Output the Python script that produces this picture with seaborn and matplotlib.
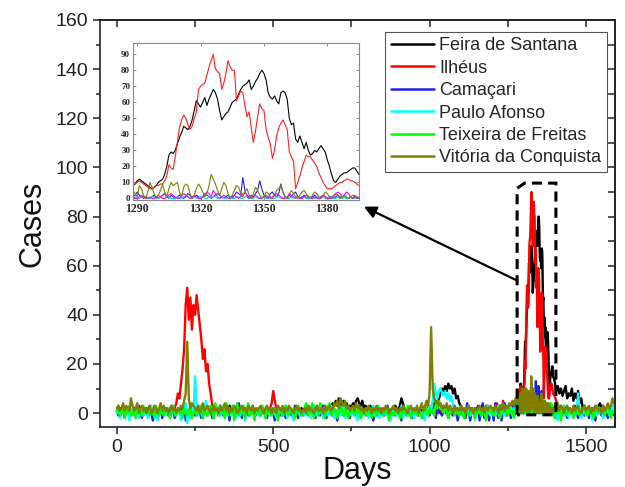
import numpy as np
import pandas as pd
import matplotlib
matplotlib.use("Agg")
import matplotlib.pyplot as plt
from matplotlib.lines import Line2D
from matplotlib.patches import Polygon
from matplotlib.ticker import MultipleLocator
import seaborn as sns

CITIES = ["Feira de Santana", "Ilhéus", "Camaçari", "Paulo Afonso",
          "Teixeira de Freitas", "Vitória da Conquista"]
COLORS = ["#000000", "#ff0000", "#1f1fe6", "#00ffff", "#00ff00", "#808000"]
INSET_COLORS = ["#000000", "#ff2020", "#2020ff", "#00dddd", "#ff00ff", "#808000"]

# Sampling: every 5 days outside the outbreak window, daily inside it
EARLY_START, EARLY_END, EARLY_STEP = 0, 1285, 5
WINDOW_START, WINDOW_END = 1288, 1395
LATE_START, LATE_END, LATE_STEP = 1400, 1595, 5

# ---------------- Feira de Santana ----------------
FEIRA_EARLY = [
    1, 0, 2, 1, 0, 1, 0, 2, 1, 0,
    1, 0, 1, 2, 0, 1, 0, 1, 0, 1,
    0, 1, 2, 0, 1, 0, 1, 0, 2, 1,
    0, 1, 0, 1, 2, 0, 1, 0, 1, 0,
    1, 0, 2, 1, 0, 1, 0, 1, 0, 2,
    1, 0, 1, 0, 2, 1, 0, 1, 0, 1,
    2, 1, 0, 1, 0, 1, 2, 0, 1, 0,
    1, 2, 3, 1, 0, 1, 2, 1, 0, 1,
    0, 1, 2, 1, 0, 2, 1, 0, 1, 0,
    1, 0, 1, 2, 1, 0, 1, 0, 1, 0,
    1, 2, 0, 1, 0, 1, 0, 2, 1, 0,
    1, 0, 1, 0, 2, 1, 0, 1, 2, 1,
    0, 1, 2, 1, 0, 1, 3, 1, 2, 1,
    2, 1, 3, 2, 1, 2, 3, 2, 4, 3,
    5, 3, 6, 4, 2, 5, 3, 4, 2, 3,
    2, 4, 3, 5, 6, 4, 3, 5, 2, 3,
    2, 1, 3, 2, 1, 2, 0, 1, 2, 1,
    0, 1, 2, 1, 0, 1, 2, 1, 3, 2,
    1, 3, 6, 4, 1, 0, 1, 2, 1, 0,
    1, 0, 2, 1, 0, 1, 2, 1, 0, 2,
    1, 3, 2, 4, 5, 3, 6, 8, 10, 9,
    11, 9, 12, 10, 11, 8, 10, 6, 7, 4,
    3, 2, 1, 2, 0, 1, 2, 1, 0, 1,
    2, 1, 0, 1, 2, 1, 0, 2, 1, 0,
    1, 0, 2, 1, 3, 1, 0, 2, 1, 2,
    1, 2, 1, 3, 2, 4, 5, 7,
]
FEIRA_WINDOW = [
    8, 9, 11, 12, 11, 10, 9, 8, 7, 6,
    7, 8, 10, 11, 12, 15, 20, 27, 29, 28,
    30, 34, 38, 41, 45, 44, 43, 45, 49, 55,
    61, 59, 57, 60, 63, 58, 62, 65, 68, 66,
    62, 55, 49, 51, 53, 54, 57, 60, 61, 62,
    65, 68, 70, 71, 72, 74, 68, 70, 73, 75,
    78, 80, 78, 74, 66, 63, 62, 64, 61, 59,
    66, 67, 66, 62, 50, 46, 47, 37, 35, 39,
    35, 31, 35, 30, 27, 28, 30, 29, 31, 33,
    31, 29, 24, 20, 15, 11, 10, 12, 14, 15,
    16, 16, 17, 18, 19, 19, 17, 15,
]
FEIRA_LATE = [
    13, 9, 11, 8, 10, 7, 9, 11, 6, 8,
    7, 10, 5, 8, 6, 9, 4, 6, 2, 3,
    1, 2, 0, 1, 2, 1, 0, 2, 3, 4,
    2, 3, 1, 0, 2, 1, 0, 2, 1, 3,
]

# ---------------- Ilhéus ----------------
ILHEUS_EARLY = [
    0, 1, 0, 0, 1, 0, 1, 0, 0, 1,
    0, 0, 1, 0, 0, 1, 0, 0, 1, 0,
    1, 0, 0, 1, 0, 0, 1, 0, 0, 1,
    0, 1, 0, 0, 1, 0, 1, 2, 4, 8,
    6, 12, 18, 26, 44, 51, 38, 47, 34, 44,
    40, 48, 42, 36, 30, 22, 26, 17, 20, 12,
    8, 3, 1, 0, 1, 0, 0, 1, 0, 0,
    1, 0, 0, 1, 0, 0, 1, 0, 1, 0,
    0, 1, 0, 0, 1, 0, 0, 1, 0, 0,
    1, 0, 0, 1, 0, 1, 0, 0, 2, 4,
    9, 5, 2, 1, 0, 1, 0, 0, 1, 0,
    0, 1, 0, 0, 1, 0, 0, 1, 0, 0,
    1, 0, 0, 1, 0, 0, 1, 0, 0, 1,
    0, 0, 1, 0, 1, 0, 0, 1, 0, 0,
    1, 0, 0, 1, 0, 0, 1, 0, 1, 0,
    0, 1, 0, 0, 1, 0, 0, 1, 0, 0,
    1, 0, 0, 1, 0, 1, 0, 0, 1, 0,
    0, 1, 0, 0, 1, 0, 0, 1, 0, 1,
    0, 0, 1, 0, 0, 1, 0, 0, 1, 0,
    1, 0, 0, 1, 0, 0, 1, 0, 0, 1,
    0, 1, 0, 0, 1, 0, 0, 1, 0, 0,
    1, 0, 0, 1, 0, 0, 1, 0, 1, 0,
    0, 1, 0, 0, 1, 0, 0, 2, 0, 1,
    0, 1, 0, 2, 0, 1, 0, 3, 1, 0,
    1, 0, 2, 4, 1, 0, 1, 5, 2, 1,
    2, 1, 3, 2, 4, 3, 6, 8,
]
ILHEUS_WINDOW = [
    9, 9, 10, 11, 10, 9, 8, 7, 6, 6,
    7, 8, 8, 9, 9, 11, 14, 21, 19, 18,
    26, 35, 44, 49, 52, 50, 46, 43, 45, 50,
    54, 68, 70, 71, 72, 77, 82, 86, 90, 81,
    79, 78, 68, 72, 78, 86, 82, 80, 80, 61,
    64, 67, 66, 58, 51, 54, 44, 35, 42, 51,
    59, 56, 55, 43, 38, 34, 25, 30, 39, 44,
    47, 49, 46, 43, 29, 26, 23, 6, 10, 14,
    19, 23, 27, 26, 26, 24, 22, 20, 16, 13,
    10, 8, 6, 6, 6, 7, 8, 9, 10, 10,
    11, 12, 12, 11, 11, 10, 9, 8,
]
ILHEUS_LATE = [
    7, 5, 3, 2, 1, 0, 1, 0, 1, 0,
    0, 1, 0, 0, 1, 0, 0, 1, 0, 0,
    1, 0, 0, 1, 0, 2, 0, 1, 0, 0,
    1, 0, 0, 1, 0, 0, 1, 0, 0, 1,
]

# ---------------- Camaçari ----------------
CAMACARI_EARLY = [
    1, -1, 2, 0, 3, -2, 1, 0, 2, -1,
    0, 2, -1, 1, 3, 0, -2, 1, 0, 2,
    -1, 3, 0, -3, 1, 2, -1, 0, 3, -2,
    1, 0, 2, -1, 0, 3, 1, -2, 0, 1,
    2, -1, 0, 3, -3, 1, 0, -2, 2, 0,
    -1, 1, 3, 0, -2, 1, 0, 2, -1, 0,
    1, -2, 0, 2, 1, -1, 3, 0, -1, 1,
    0, 2, -3, 1, 0, 2, -1, 1, 4, 0,
    -2, 1, 0, 2, -1, 0, 1, 3, -2, 0,
    1, 0, -1, 2, 0, 1, -2, 0, 1, 2,
    0, -3, 1, 0, 2, -1, 1, 0, -2, 1,
    2, 0, -1, 1, 3, 0, -2, 1, 0, -1,
    1, 2, 0, -1, 1, 0, 2, -2, 1, 0,
    -1, 1, 3, 0, -2, 1, 0, 2, -1, 1,
    0, -3, 2, 1, 0, -1, 3, 0, 1, -2,
    1, 0, 2, -1, 0, 1, -2, 2, 0, 1,
    -1, 2, 0, 1, -3, 0, 2, -1, 1, 0,
    2, -1, 0, 3, 1, -2, 0, 1, -1, 2,
    0, 1, -3, 2, 0, 1, -1, 0, 2, -2,
    1, 0, 2, -1, 1, 0, -2, 3, 0, 1,
    -1, 2, 0, 1, -2, 3, 1, 0, -1, 2,
    0, 1, -2, 2, 0, -1, 3, 1, -3, 0,
    2, 0, 1, -2, 4, 0, -3, 1, 2, -1,
    0, 3, -3, 1, 4, -2, 0, 3, -3, 1,
    2, -3, 4, 0, -2, 3, -3, 1, 4, -1,
    0, 3, -2, 2, 4, 0, 6, 3,
]
CAMACARI_WINDOW = [
    1, 2, 4, 2, 1, 0, 1, 0, 0, 1,
    2, 1, 0, 1, 2, 3, 1, 0, 2, 1,
    0, 1, 2, 1, 0, 1, 3, 2, 0, 1,
    2, 1, 0, 1, 3, 2, 1, 0, 1, 2,
    3, 2, 1, 0, 1, 2, 1, 0, 2, 4,
    3, 2, 13, 5, 1, 0, 2, 1, 3, 5,
    11, 6, 2, 1, 0, 3, 4, 2, 1, 3,
    9, 4, 1, 0, 2, 1, 3, 4, 1, 0,
    1, 2, 0, 1, 0, 1, 2, 1, 0, 1,
    2, 1, 0, 1, 0, 0, 1, 2, 1, 0,
    1, 0, 0, 1, 0, 1, 0, 0,
]
CAMACARI_LATE = [
    1, -2, 2, 0, 3, -1, 1, 0, -2, 2,
    0, 1, -1, 3, 0, -2, 1, 0, 2, -1,
    1, 0, -2, 2, 0, 1, -3, 1, 0, 2,
    -1, 0, 2, 1, -2, 0, 3, 1, -1, 0,
]

# ---------------- Paulo Afonso ----------------
PAULO_EARLY = [
    0, 2, -2, 1, 3, -1, 0, 2, -3, 1,
    2, -1, 0, 3, -2, 1, 0, -1, 2, 0,
    -2, 1, 3, 0, -1, 2, -3, 1, 0, 2,
    1, -1, 0, 2, -2, 0, 3, 1, -1, 0,
    2, -3, 1, 0, 4, -4, 1, -2, 3, 0,
    15, 2, -1, 3, 0, -2, 1, 5, -1, 0,
    1, 0, -2, 2, 0, 1, -1, 3, 0, -2,
    0, 2, 1, -1, 0, 3, -2, 0, 1, -1,
    2, 0, -3, 1, 2, -1, 0, 2, -2, 1,
    0, -1, 2, 0, 1, -2, 3, 0, -1, 2,
    1, 0, -2, 2, 0, 1, -1, 0, 3, -2,
    0, 2, 1, -3, 0, 1, 2, -1, 0, 1,
    -1, 0, 2, 1, -2, 0, 3, 0, -1, 2,
    0, 1, -2, 0, 2, -1, 1, 3, 0, -2,
    1, 0, 2, -1, 0, 3, -2, 1, 0, 2,
    -1, 2, 0, 1, -3, 0, 2, -1, 1, 0,
    2, -2, 0, 1, 3, -1, 0, 2, -2, 1,
    0, 1, -1, 2, 0, -3, 1, 0, 2, -1,
    1, 0, 3, -2, 0, 1, -1, 2, 0, 1,
    -2, 1, 0, 2, -1, 0, 1, -3, 2, 0,
    3, 1, 5, 12, 8, 6, 9, 10, 8, 7,
    9, 6, 8, 5, 7, 3, 2, 0, 1, -1,
    0, 2, -2, 1, 0, 3, -1, 0, 2, -3,
    1, 0, 2, -1, 0, 1, -2, 3, 0, -1,
    2, 0, -1, 1, 3, -2, 0, 1, -1, 2,
    0, 1, 3, -1, 2, 1, 4, 2,
]
PAULO_WINDOW = [
    0, 1, 0, 0, 1, 1, 0, 0, 0, 1,
    1, 0, 0, 1, 0, 0, 1, 1, 0, 0,
    0, 1, 0, 0, 1, 2, 1, 0, 0, 1,
    0, 0, 1, 1, 0, 0, 1, 0, 1, 1,
    0, 0, 1, 0, 0, 1, 1, 0, 0, 1,
    1, 0, 0, 1, 2, 1, 0, 0, 1, 0,
    0, 1, 1, 0, 0, 1, 0, 0, 1, 1,
    0, 0, 1, 0, 0, 1, 0, 1, 1, 0,
    0, 1, 0, 0, 1, 0, 0, 1, 0, 0,
    1, 0, 0, 1, 1, 0, 0, 1, 0, 0,
    1, 0, 0, 1, 0, 0, 1, 0,
]
PAULO_LATE = [
    2, 0, -3, 1, 0, 2, -1, 0, 3, -2,
    1, 0, 2, -1, 0, 8, 1, -2, 0, 2,
    -1, 1, 0, 2, -3, 0, 1, -1, 2, 0,
    1, -2, 0, 2, 1, -1, 0, 3, 1, 0,
]

# ---------------- Teixeira de Freitas ----------------
TEIXEIRA_EARLY = [
    1, 3, -1, 0, 2, -2, 1, 0, 3, -1,
    0, 1, -2, 2, 0, 1, -1, 3, 0, 1,
    2, -1, 0, 1, -2, 3, 0, -1, 2, 0,
    -1, 2, 1, 0, -2, 1, 3, -1, 0, 2,
    0, 1, -2, 2, 0, -1, 1, 3, -2, 0,
    1, -1, 2, 0, 3, -2, 1, 0, -1, 2,
    3, 0, -2, 4, 1, -1, 3, 0, 2, -2,
    4, -1, 2, 0, 3, -3, 1, 4, -1, 2,
    0, 3, -2, 1, 4, -1, 0, 2, -3, 1,
    2, 0, -1, 3, 1, -2, 2, 0, 1, -1,
    0, 2, 1, -3, 0, 2, -1, 1, 3, 0,
    -1, 1, 0, 2, -2, 0, 3, 1, -1, 0,
    2, 4, -1, 3, 0, 4, -2, 2, 3, -1,
    4, 0, 2, -2, 3, 1, 4, -1, 0, 2,
    1, -2, 0, 3, 1, -1, 2, 0, -2, 1,
    0, 2, -1, 1, 0, 3, -2, 0, 1, -1,
    2, 0, 1, -2, 0, 2, -1, 3, 0, 1,
    -1, 1, 0, 2, -3, 1, 0, -1, 2, 0,
    1, -2, 2, 0, 1, -1, 3, 0, -2, 1,
    0, 2, -1, 1, 0, -2, 1, 3, 0, -1,
    2, 0, 1, -1, 4, 2, 5, 3, 1, 0,
    3, 1, -2, 2, 0, 1, -1, 0, 2, -1,
    0, 1, -2, 2, 0, -1, 1, 0, 2, -2,
    1, 0, 2, -1, 0, 1, -3, 0, 2, 1,
    0, -1, 1, 2, 0, -2, 1, 0, 3, 1,
    -1, 2, 0, 1, -2, 1, 3, 2,
]
TEIXEIRA_WINDOW = [
    1, 0, 0, 1, 2, 1, 0, 0, 1, 0,
    0, 1, 2, 1, 0, 0, 1, 2, 3, 2,
    1, 0, 0, 2, 3, 2, 1, 0, 1, 2,
    1, 0, 0, 1, 2, 4, 3, 1, 5, 3,
    1, 0, 1, 2, 1, 0, 0, 1, 2, 1,
    0, 1, 3, 4, 2, 1, 0, 1, 2, 1,
    0, 0, 1, 2, 1, 0, 1, 2, 3, 2,
    1, 0, 0, 1, 3, 2, 1, 0, 1, 0,
    0, 1, 2, 1, 0, 0, 1, 0, 0, 1,
    2, 1, 0, 0, 1, 2, 3, 4, 3, 1,
    2, 4, 3, 1, 0, 2, 1, 0,
]
TEIXEIRA_LATE = [
    -2, 1, 0, 2, -3, 1, 3, 0, -1, 2,
    0, 1, -2, 2, 0, 1, -1, 0, 2, 1,
    0, -1, 2, 1, 0, -2, 1, 3, 0, 1,
    2, 0, -1, 1, 3, 0, -2, 1, 0, 2,
]

# ---------------- Vitória da Conquista ----------------
VITORIA_EARLY = [
    2, 3, 1, 2, 4, 1, 3, 2, 1, 6,
    3, 1, 2, 4, 0, 2, 3, 1, 2, 0,
    2, 3, 0, 1, 3, 2, 0, 2, 4, 1,
    3, 1, 2, 0, 2, 3, 1, 2, 0, 2,
    1, 3, 2, 5, 8, 29, 6, 2, 4, 3,
    2, 1, 3, 0, 2, 4, 1, 2, 3, 1,
    0, 2, 3, 1, 2, 0, 3, 1, 2, 4,
    1, 3, 0, 2, 1, 3, 2, 0, 1, 2,
    3, 1, 2, 0, 3, 2, 1, 3, 0, 2,
    1, 2, 3, 1, 0, 2, 3, 1, 2, 0,
    2, 1, 0, 3, 2, 1, 3, 0, 2, 1,
    3, 2, 1, 0, 2, 3, 1, 2, 0, 1,
    2, 0, 3, 1, 2, 1, 0, 2, 3, 1,
    1, 2, 0, 3, 1, 2, 3, 1, 2, 4,
    3, 5, 2, 6, 4, 3, 5, 2, 3, 1,
    2, 3, 1, 4, 2, 3, 1, 2, 0, 2,
    1, 3, 2, 0, 2, 1, 3, 1, 2, 0,
    2, 1, 3, 2, 0, 1, 2, 3, 1, 2,
    0, 2, 1, 3, 2, 1, 0, 2, 3, 1,
    2, 1, 3, 0, 2, 4, 1, 2, 5, 3,
    8, 35, 10, 6, 4, 5, 3, 4, 2, 3,
    2, 4, 1, 3, 2, 0, 3, 1, 2, 1,
    3, 1, 2, 0, 2, 3, 1, 2, 0, 2,
    1, 2, 3, 1, 2, 0, 3, 1, 2, 3,
    2, 1, 3, 2, 0, 3, 2, 4, 1, 3,
    2, 4, 3, 5, 3, 6, 4, 7,
]
VITORIA_WINDOW = [
    5, 3, 1, 8, 6, 2, 0, 4, 10, 7,
    3, 0, 2, 5, 9, 4, 1, 6, 10, 8,
    9, 10, 4, 1, 7, 9, 8, 3, 0, 2,
    6, 9, 7, 4, 1, 3, 8, 15, 12, 9,
    5, 2, 6, 10, 8, 3, 0, 2, 5, 8,
    7, 3, 1, 4, 6, 2, 0, 3, 7, 5,
    2, 0, 1, 4, 3, 1, 0, 2, 5, 6,
    8, 4, 1, 0, 2, 5, 3, 1, 0, 2,
    4, 5, 3, 1, 0, 2, 4, 3, 1, 0,
    2, 4, 3, 1, 0, 1, 3, 2, 0, 1,
    2, 1, 0, 1, 2, 1, 0, 1,
]
VITORIA_LATE = [
    3, 2, 4, 1, 3, 2, 0, 2, 3, 1,
    2, 0, 3, 1, 2, 3, 1, 0, 2, 3,
    1, 2, 3, 0, 2, 1, 3, 2, 1, 2,
    0, 3, 1, 2, 4, 2, 3, 6, 4, 2,
]

SERIES = {
    "Feira de Santana": (FEIRA_EARLY, FEIRA_WINDOW, FEIRA_LATE),
    "Ilhéus": (ILHEUS_EARLY, ILHEUS_WINDOW, ILHEUS_LATE),
    "Camaçari": (CAMACARI_EARLY, CAMACARI_WINDOW, CAMACARI_LATE),
    "Paulo Afonso": (PAULO_EARLY, PAULO_WINDOW, PAULO_LATE),
    "Teixeira de Freitas": (TEIXEIRA_EARLY, TEIXEIRA_WINDOW, TEIXEIRA_LATE),
    "Vitória da Conquista": (VITORIA_EARLY, VITORIA_WINDOW, VITORIA_LATE),
}

early_days = np.arange(EARLY_START, EARLY_END + 1, EARLY_STEP)
window_days = np.arange(WINDOW_START, WINDOW_END + 1)
late_days = np.arange(LATE_START, LATE_END + 1, LATE_STEP)
days = np.concatenate([early_days, window_days, late_days])

frames = []
for city in CITIES:
    early, window, late = SERIES[city]
    assert len(early) == len(early_days), (city, "early", len(early))
    assert len(window) == len(window_days), (city, "window", len(window))
    assert len(late) == len(late_days), (city, "late", len(late))
    frames.append(pd.DataFrame({"Day": days, "Cases": early + window + late, "City": city}))
df = pd.concat(frames, ignore_index=True)

sns.set_style("ticks")
plt.rcParams["font.family"] = ["Liberation Sans", "DejaVu Sans"]

fig = plt.figure(figsize=(6.25, 4.87), dpi=100)
ax = fig.add_axes([0.16, 0.123, 0.824, 0.836])

sns.lineplot(data=df, x="Day", y="Cases", hue="City", hue_order=CITIES,
             palette=COLORS, estimator=None, linewidth=1.7, legend=False, ax=ax)

ax.set_xlim(-54, 1593)
ax.set_ylim(-5.7, 160)
ax.xaxis.set_major_locator(MultipleLocator(500))
ax.xaxis.set_minor_locator(MultipleLocator(250))
ax.yaxis.set_major_locator(MultipleLocator(20))
ax.yaxis.set_minor_locator(MultipleLocator(10))
ax.tick_params(which="major", direction="out", length=5, width=1.1,
               labelsize=14, color="#222222", labelcolor="#222222")
ax.tick_params(which="minor", direction="out", length=3, width=1.1, color="#222222")
for sp in ax.spines.values():
    sp.set_linewidth(1.2)
    sp.set_color("#222222")

ax.set_xlabel("Days", fontsize=22, labelpad=0, color="#111111")
ax.set_ylabel("Cases", fontsize=22, labelpad=6, color="#111111")

# inward ticks on the top and right frame edges
top = ax.secondary_xaxis("top")
top.xaxis.set_major_locator(MultipleLocator(250))
top.tick_params(axis="x", direction="in", length=5, width=1.1, color="#222222",
                labeltop=False, labelbottom=False)
top.spines["top"].set_linewidth(1.2)
right = ax.secondary_yaxis("right")
right.yaxis.set_major_locator(MultipleLocator(10))
right.tick_params(axis="y", direction="in", length=5, width=1.1, color="#222222",
                  labelright=False, labelleft=False)
right.spines["right"].set_linewidth(1.2)

handles = [Line2D([], [], color=c, lw=1.8) for c in COLORS]
leg = ax.legend(handles, CITIES, loc="upper right", bbox_to_anchor=(0.984, 0.9705),
                borderaxespad=0, fontsize=13, handlelength=2.4, handletextpad=0.3,
                labelspacing=0.3, borderpad=0.3, frameon=True, fancybox=False,
                edgecolor="#555555", framealpha=1)
leg.get_frame().set_linewidth(0.8)

# dashed outline around the outbreak window
box = Polygon([(1280, -0.7), (1280, 91.5), (1304, 93.6), (1404, 93.6), (1404, -0.7)],
              closed=True, fill=False, edgecolor="black", lw=2.2,
              linestyle=(0, (3.3, 2.0)), zorder=6)
ax.add_patch(box)

ax.annotate("", xy=(790, 84), xytext=(1279, 54),
            arrowprops=dict(arrowstyle="-|>", color="black", lw=1.6,
                            mutation_scale=18, shrinkA=0, shrinkB=0), zorder=6)

# zoomed view of the outbreak window
ins = fig.add_axes([0.2128, 0.5893, 0.3616, 0.3224])
win = df[(df["Day"] >= WINDOW_START) & (df["Day"] <= WINDOW_END)]
sns.lineplot(data=win, x="Day", y="Cases", hue="City", hue_order=CITIES,
             palette=INSET_COLORS, estimator=None, linewidth=0.8, legend=False, ax=ins)
ins.set_xlim(1288, 1395)
ins.set_ylim(-1, 97)
ins.set_xticks([1290, 1320, 1350, 1380])
ins.set_yticks(range(0, 91, 10))
ins.set_xlabel("")
ins.set_ylabel("")
ins.tick_params(direction="in", length=2.5, width=0.6, top=True, right=True,
                color="#777777", pad=2)
for lab in ins.get_xticklabels():
    lab.set_fontsize(8.5)
    lab.set_fontweight("bold")
    lab.set_family(["Liberation Serif", "DejaVu Serif"])
for lab in ins.get_yticklabels():
    lab.set_fontsize(6.5)
    lab.set_fontweight("bold")
    lab.set_family(["Liberation Serif", "DejaVu Serif"])
for sp in ins.spines.values():
    sp.set_linewidth(0.8)
    sp.set_color("#888888")

fig.savefig("out.png", dpi=100)
